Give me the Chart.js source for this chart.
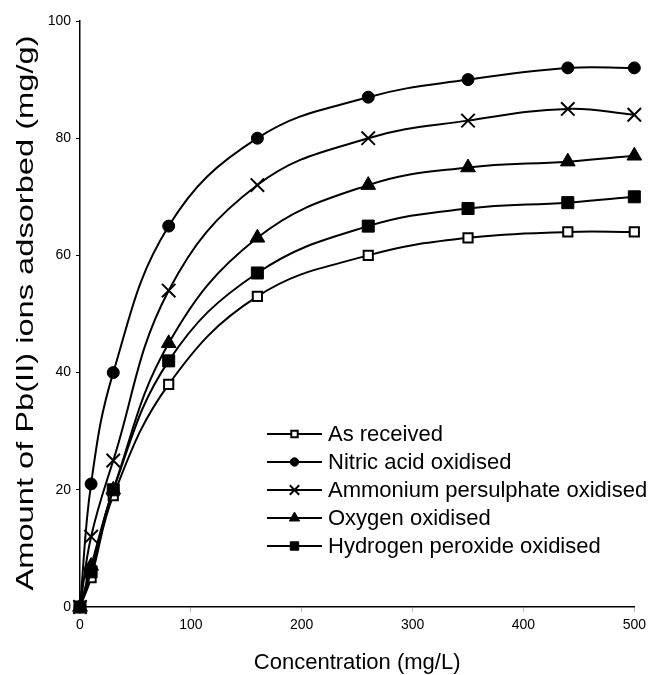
<!DOCTYPE html>
<html>
<head>
<meta charset="utf-8">
<script src="https://cdn.jsdelivr.net/npm/chart.js@4/dist/chart.umd.min.js"></script>
<style>
  html, body { margin: 0; padding: 0; background: #fff; }
  #wrap { width: 651px; height: 675px; }
</style>
</head>
<body>
<div id="wrap"><canvas id="chart" width="651" height="675"></canvas></div>
<script>
// Lead(II) uptake isotherms for differently treated carbons
const concentration = [0, 10, 30, 80, 160, 260, 350, 440, 500];
const asReceived = [0, 5, 19, 38, 53, 60, 63, 64, 64];
const nitricAcid = [0, 21, 40, 65, 80, 87, 90, 92, 92];
const ammoniumPersulphate = [0, 12, 25, 54, 72, 80, 83, 85, 84];
const oxygenOxidised = [0, 7, 20, 45, 63, 72, 75, 76, 77];
const hydrogenPeroxide = [0, 6, 20, 42, 57, 65, 68, 69, 70];

const seriesNames = [
  'As received',
  'Nitric acid oxidised',
  'Ammonium persulphate oxidised',
  'Oxygen oxidised',
  'Hydrogen peroxide oxidised'
];
const xTicks = [0, 100, 200, 300, 400, 500];
const yTicks = [0, 20, 40, 60, 80, 100];
const xTitle = 'Concentration (mg/L)';
const yTitle = 'Amount of Pb(II) ions adsorbed (mg/g)';

const FONT = '"Liberation Sans", Arial, sans-serif';

const seriesValues = [asReceived, nitricAcid, ammoniumPersulphate, oxygenOxidised, hydrogenPeroxide];
const markerStyles = [
  { pointStyle: 'rect', radius: 6.5, fill: '#ffffff', border: 2 },
  { pointStyle: 'circle', radius: 6, fill: '#000000', border: 1 },
  { pointStyle: 'crossRot', radius: 9.5, fill: '#000000', border: 2 },
  { pointStyle: 'triangle', radius: 8.5, fill: '#000000', border: 1 },
  { pointStyle: 'rect', radius: 8.5, fill: '#000000', border: 1 }
];

const datasets = seriesValues.map((vals, i) => ({
  label: seriesNames[i],
  data: concentration.map((c, k) => ({ x: c, y: vals[k] })),
  borderColor: '#000000',
  borderWidth: 2,
  tension: 0.4,
  fill: false,
  clip: false,
  pointStyle: markerStyles[i].pointStyle,
  pointRadius: markerStyles[i].radius,
  pointBackgroundColor: markerStyles[i].fill,
  pointBorderColor: '#000000',
  pointBorderWidth: markerStyles[i].border,
  order: seriesValues.length - i
}));

// Small version of a series marker, used in the legend
function drawMarker(ctx, style, x, y, scale) {
  const r = style.radius * scale;
  ctx.save();
  ctx.fillStyle = style.fill;
  ctx.strokeStyle = '#000000';
  ctx.lineWidth = style.border;
  ctx.beginPath();
  if (style.pointStyle === 'circle') {
    ctx.arc(x, y, r, 0, Math.PI * 2);
    ctx.fill(); ctx.stroke();
  } else if (style.pointStyle === 'rect') {
    const s = r * Math.SQRT1_2;
    ctx.rect(x - s, y - s, 2 * s, 2 * s);
    ctx.fill(); ctx.stroke();
  } else if (style.pointStyle === 'triangle') {
    for (let k = 0; k < 3; k++) {
      const a = k * 2 * Math.PI / 3;
      const px = x + Math.sin(a) * r, py = y - Math.cos(a) * r;
      if (k === 0) ctx.moveTo(px, py); else ctx.lineTo(px, py);
    }
    ctx.closePath();
    ctx.fill(); ctx.stroke();
  } else if (style.pointStyle === 'crossRot') {
    const d = r * Math.SQRT1_2;
    ctx.moveTo(x - d, y - d); ctx.lineTo(x + d, y + d);
    ctx.moveTo(x + d, y - d); ctx.lineTo(x - d, y + d);
    ctx.stroke();
  }
  ctx.restore();
}

const decorations = {
  id: 'decorations',
  afterDraw(chart) {
    const { ctx, chartArea } = chart;
    ctx.save();
    ctx.fillStyle = '#000000';

    // x-axis title
    ctx.font = '22px ' + FONT;
    ctx.textAlign = 'center';
    ctx.textBaseline = 'middle';
    ctx.fillText(xTitle, (chartArea.left + chartArea.right) / 2, chartArea.bottom + 56);

    // y-axis title, drawn tall along its reading direction
    ctx.font = '24px ' + FONT;
    const w = ctx.measureText(yTitle).width;
    const titleLen = 555;
    ctx.translate(26, (chartArea.top + chartArea.bottom) / 2 - 1);
    ctx.rotate(-Math.PI / 2);
    ctx.scale(titleLen / w, 1);
    ctx.fillText(yTitle, 0, 0);
    ctx.restore();

    // legend inside the plot area
    ctx.save();
    const x0 = chartArea.left + 187;
    const lineLen = 55;
    const y0 = chartArea.top + 413;
    const step = 28;
    ctx.font = '22px ' + FONT;
    ctx.textAlign = 'left';
    ctx.textBaseline = 'middle';
    seriesNames.forEach((name, i) => {
      const y = y0 + i * step;
      ctx.strokeStyle = '#000000';
      ctx.lineWidth = 2;
      ctx.beginPath();
      ctx.moveTo(x0, y);
      ctx.lineTo(x0 + lineLen, y);
      ctx.stroke();
      drawMarker(ctx, markerStyles[i], x0 + lineLen / 2, y, 0.7);
      ctx.fillStyle = '#000000';
      ctx.fillText(name, x0 + lineLen + 6, y + 1);
    });
    ctx.restore();
  }
};

new Chart(document.getElementById('chart'), {
  type: 'line',
  data: { datasets },
  plugins: [decorations],
  options: {
    responsive: false,
    animation: false,
    events: [],
    layout: { padding: { top: 21, right: 14, left: 0, bottom: 0 } },
    plugins: {
      legend: { display: false },
      tooltip: { enabled: false },
      title: { display: false }
    },
    scales: {
      x: {
        type: 'linear',
        min: 0,
        max: 500,
        afterBuildTicks(scale) { scale.ticks = xTicks.map(v => ({ value: v })); },
        afterFit(scale) { scale.height = 68; },
        border: { display: true, color: '#000000', width: 1.5 },
        grid: { display: true, drawOnChartArea: false, drawTicks: true, tickLength: 5, color: '#bbbbbb' },
        ticks: { color: '#000000', font: { family: FONT, size: 14 }, padding: 5, maxRotation: 0 }
      },
      y: {
        type: 'linear',
        min: 0,
        max: 100,
        afterBuildTicks(scale) { scale.ticks = yTicks.map(v => ({ value: v })); },
        afterFit(scale) { scale.width = 80; },
        border: { display: true, color: '#000000', width: 1.5 },
        grid: { display: true, drawOnChartArea: false, drawTicks: true, tickLength: 4, color: '#000000' },
        ticks: { color: '#000000', font: { family: FONT, size: 14 }, padding: 5 }
      }
    }
  }
});
</script>
</body>
</html>
